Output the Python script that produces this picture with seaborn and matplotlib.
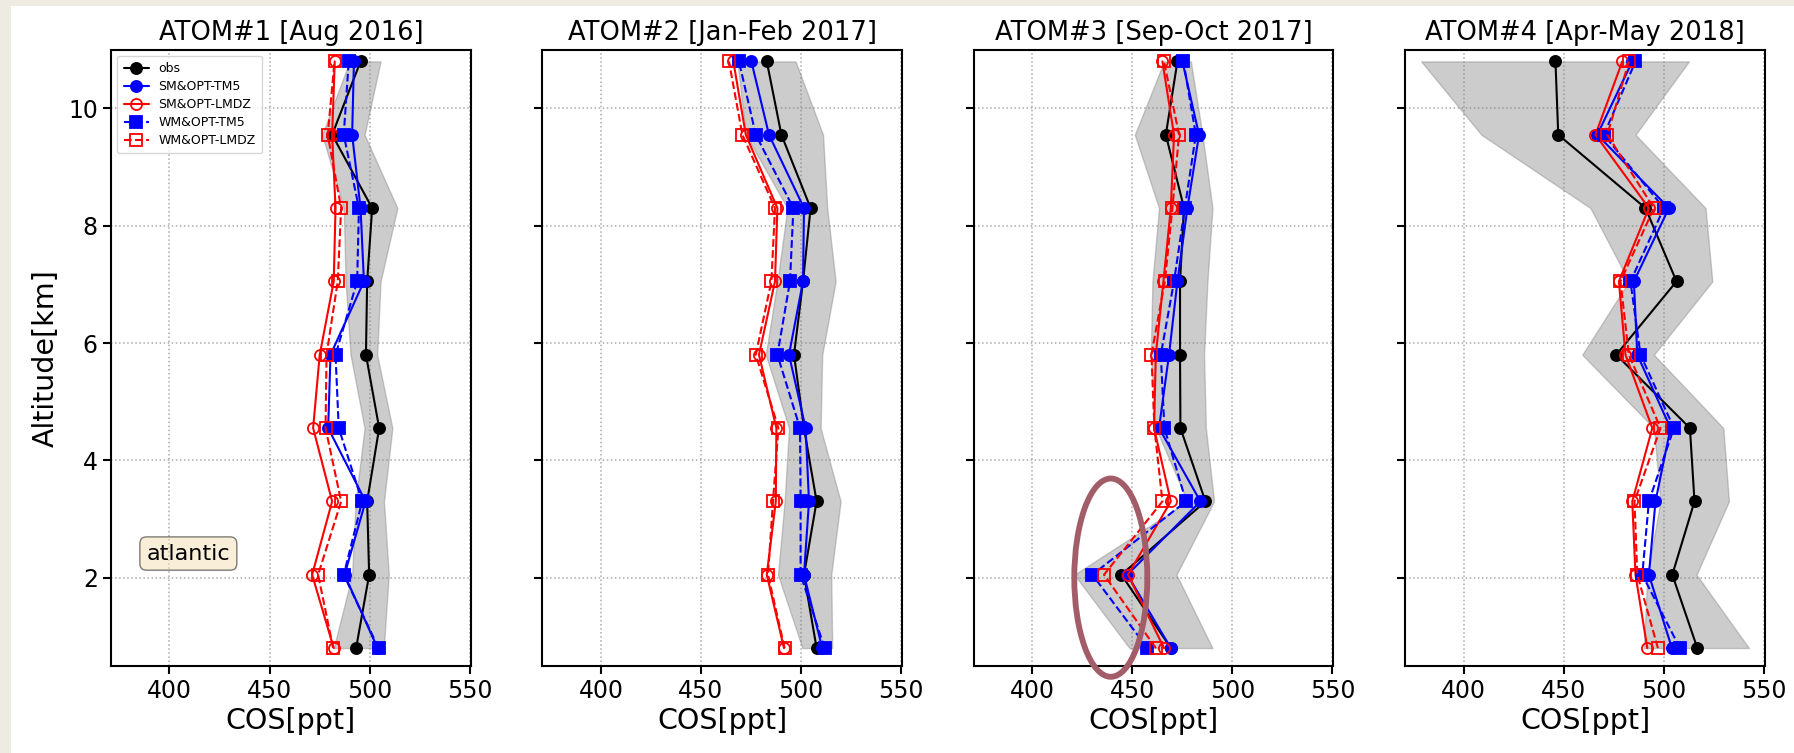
import numpy as np
import pandas as pd
import seaborn as sns
import matplotlib
matplotlib.use("Agg")
import matplotlib.pyplot as plt
from matplotlib.patches import Rectangle, Ellipse

# ---------------- data ----------------
altitude = [0.8, 2.05, 3.3, 4.55, 5.8, 7.05, 8.3, 9.55, 10.8]
titles = ["ATOM#1 [Aug 2016]", "ATOM#2 [Jan-Feb 2017]",
          "ATOM#3 [Sep-Oct 2017]", "ATOM#4 [Apr-May 2018]"]
series_names = ["obs", "SM&OPT-TM5", "SM&OPT-LMDZ", "WM&OPT-TM5", "WM&OPT-LMDZ"]
x_ticks = [400, 450, 500, 550]
y_ticks = [2, 4, 6, 8, 10]

obs1 = [493.3, 499.8, 498.8, 504.8, 498.2, 498.8, 501.3, 481.3, 495.5]
sm_tm5_1 = [504.0, 487.5, 498.0, 479.3, 480.5, 497.2, 495.5, 491.3, 492.2]
wm_tm5_1 = [504.5, 487.1, 496.3, 484.6, 483.0, 493.8, 494.7, 487.1, 489.6]
sm_lmdz_1 = [482.1, 471.3, 481.3, 471.8, 475.1, 482.1, 483.0, 481.3, 482.6]
wm_lmdz_1 = [481.8, 474.3, 485.8, 478.0, 478.5, 484.1, 485.8, 479.1, 482.5]
band1_lo = [482.1, 491.3, 493.0, 497.5, 490.5, 488.0, 487.1, 476.3, 490.0]
band1_hi = [507.1, 509.6, 507.2, 511.4, 503.8, 505.5, 513.9, 497.5, 505.5]

obs2 = [507.8, 501.5, 507.8, 501.5, 496.5, 501.0, 504.8, 490.2, 482.9]
sm_tm5_2 = [510.6, 501.5, 504.0, 502.3, 494.0, 501.0, 501.5, 484.0, 475.2]
wm_tm5_2 = [511.8, 499.8, 499.8, 499.5, 488.2, 494.5, 496.2, 477.4, 469.0]
sm_lmdz_2 = [491.5, 482.9, 487.4, 487.7, 479.0, 487.0, 488.2, 472.4, 466.2]
wm_lmdz_2 = [491.8, 483.5, 486.0, 488.7, 477.4, 485.2, 487.0, 470.7, 464.0]
band2_lo = [500.7, 488.5, 491.8, 494.0, 482.4, 488.2, 493.2, 472.4, 468.2]
band2_hi = [515.6, 515.1, 519.8, 509.8, 510.6, 517.3, 513.1, 511.0, 497.3]

obs3 = [469.2, 444.5, 486.5, 474.0, 473.8, 473.8, 475.8, 466.7, 472.5]
sm_tm5_3 = [469.2, 447.5, 484.0, 463.3, 468.3, 472.5, 477.5, 483.3, 475.0]
wm_tm5_3 = [457.5, 430.0, 476.8, 466.0, 464.2, 470.8, 476.2, 481.7, 475.5]
sm_lmdz_3 = [465.8, 447.8, 469.2, 460.8, 461.7, 465.5, 469.2, 470.8, 465.0]
wm_lmdz_3 = [461.7, 435.8, 465.0, 461.0, 459.5, 466.2, 470.0, 473.3, 465.8]
band3_lo = [448.5, 421.0, 477.5, 461.7, 459.2, 460.0, 463.3, 451.2, 465.8]
band3_hi = [490.0, 472.0, 490.8, 486.7, 485.8, 487.5, 490.0, 485.0, 479.2]

obs4 = [516.7, 504.2, 515.3, 513.0, 476.2, 506.3, 490.8, 447.2, 445.8]
sm_tm5_4 = [504.0, 492.5, 495.8, 503.3, 486.7, 485.0, 502.5, 466.7, 484.2]
wm_tm5_4 = [508.0, 489.2, 492.5, 505.0, 488.3, 483.3, 500.0, 470.0, 485.8]
sm_lmdz_4 = [491.7, 485.8, 484.2, 494.2, 480.8, 477.5, 492.5, 465.8, 479.2]
wm_lmdz_4 = [497.0, 486.7, 485.3, 498.3, 482.5, 478.3, 495.0, 471.7, 482.5]
band4_lo = [490.0, 491.7, 498.3, 495.0, 459.2, 482.5, 463.3, 408.8, 378.7]
band4_hi = [542.5, 516.3, 532.5, 529.7, 495.0, 524.2, 520.8, 485.8, 512.5]

panels = [
    (obs1, sm_tm5_1, sm_lmdz_1, wm_tm5_1, wm_lmdz_1, band1_lo, band1_hi),
    (obs2, sm_tm5_2, sm_lmdz_2, wm_tm5_2, wm_lmdz_2, band2_lo, band2_hi),
    (obs3, sm_tm5_3, sm_lmdz_3, wm_tm5_3, wm_lmdz_3, band3_lo, band3_hi),
    (obs4, sm_tm5_4, sm_lmdz_4, wm_tm5_4, wm_lmdz_4, band4_lo, band4_hi),
]

# ---------------- styles ----------------
styles = {
    "obs":         dict(color="black", linestyle="-",  marker="o", mfc="black", mec="black"),
    "SM&OPT-TM5":  dict(color="blue",  linestyle="-",  marker="o", mfc="blue",  mec="blue"),
    "SM&OPT-LMDZ": dict(color="red",   linestyle="-",  marker="o", mfc="none",  mec="red"),
    "WM&OPT-TM5":  dict(color="blue",  linestyle="--", marker="s", mfc="blue",  mec="blue"),
    "WM&OPT-LMDZ": dict(color="red",   linestyle="--", marker="s", mfc="none",  mec="red"),
}

sns.set_style("ticks")
plt.rcParams["font.family"] = ["DejaVu Sans"]
plt.rcParams["text.color"] = "black"
plt.rcParams["axes.labelcolor"] = "black"
plt.rcParams["xtick.color"] = "black"
plt.rcParams["ytick.color"] = "black"
plt.rcParams["xtick.labelcolor"] = "black"
plt.rcParams["ytick.labelcolor"] = "black"

fig, axes = plt.subplots(1, 4, figsize=(17.94, 7.53), dpi=100, sharey=True)
fig.subplots_adjust(left=0.0619, right=0.9838, top=0.934, bottom=0.116, wspace=0.2)
fig.patch.set_facecolor("white")

# beige frame strips (left and top)
fig.patches.append(Rectangle((0, 0), 11 / 1794, 1, transform=fig.transFigure,
                             facecolor="#EEEBE2", edgecolor="none", zorder=-10))
fig.patches.append(Rectangle((0, 1 - 6 / 753), 1, 6 / 753, transform=fig.transFigure,
                             facecolor="#EEEBE2", edgecolor="none", zorder=-10))

for i, ax in enumerate(axes):
    obs, sm_tm5, sm_lmdz, wm_tm5, wm_lmdz, lo, hi = panels[i]
    ax.fill_betweenx(altitude, lo, hi, color="gray", alpha=0.4, zorder=1)
    vals = [obs, sm_tm5, sm_lmdz, wm_tm5, wm_lmdz]
    for name, v in zip(series_names, vals):
        st = styles[name]
        df = pd.DataFrame({"cos": v, "alt": altitude})
        sns.lineplot(data=df, x="cos", y="alt", ax=ax, sort=False, estimator=None,
                     color=st["color"], linestyle=st["linestyle"], marker=st["marker"],
                     markersize=8, markerfacecolor=st["mfc"], markeredgecolor=st["mec"],
                     markeredgewidth=1.3, linewidth=1.5, label=name, zorder=3)
    ax.set_xlim(370.8, 550.5)
    ax.set_ylim(0.5, 11.0)
    ax.set_xticks(x_ticks)
    ax.set_yticks(y_ticks)
    ax.grid(True, linestyle=":", color="#aaaaaa", linewidth=1.1, zorder=0)
    ax.set_axisbelow(True)
    ax.set_title(titles[i], fontsize=18.5, pad=7, color="black")
    ax.set_xlabel("COS[ppt]", fontsize=20.5, labelpad=3, color="black")
    ax.set_ylabel("")
    for sp in ax.spines.values():
        sp.set_visible(True)
        sp.set_color("black")
        sp.set_linewidth(1.5)
    ax.tick_params(axis="both", direction="out", length=6, width=1.5,
                   labelsize=17, color="black", labelcolor="black")
    if i == 0:
        ax.legend(loc="upper left", fontsize=9, labelspacing=0.4, handlelength=2.0,
                  borderpad=0.5, frameon=True)
        ax.set_ylabel("Altitude[km]", fontsize=20.5, labelpad=6, color="black")
        ax.text(0.215, 0.182, "atlantic", transform=ax.transAxes, fontsize=16,
                ha="center", va="center", color="black",
                bbox=dict(boxstyle="round", facecolor="wheat", alpha=0.5, edgecolor="black"))
    else:
        leg = ax.get_legend()
        if leg is not None:
            leg.remove()
        ax.tick_params(axis="y", labelleft=False)

# highlight ellipse in ATOM#3
ell = Ellipse((439.2, 2.0), 36.5, 3.38, fill=False, edgecolor="#A25D68",
              linewidth=4.2, clip_on=False, zorder=5)
axes[2].add_patch(ell)

fig.savefig("out.png", dpi=100)
